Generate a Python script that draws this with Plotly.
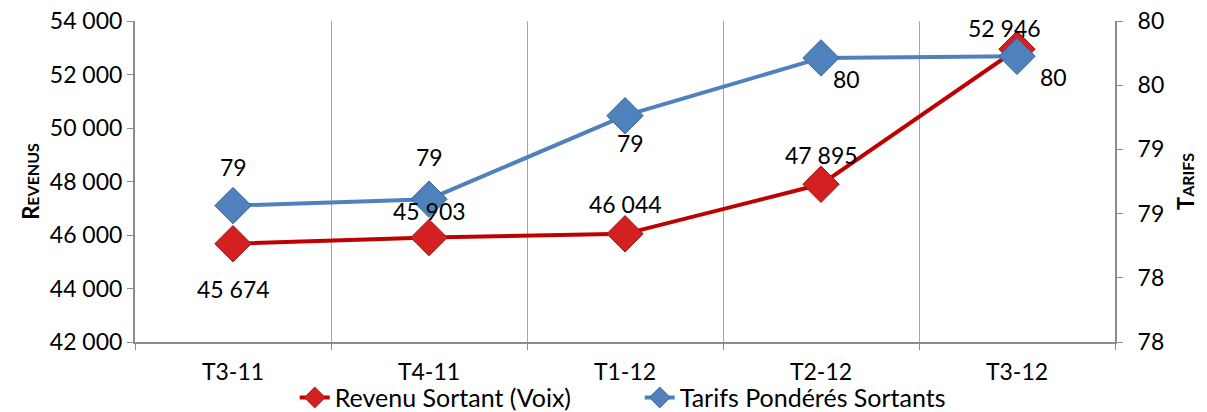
import plotly.graph_objects as go

# data
trimestres = ["T3-11", "T4-11", "T1-12", "T2-12", "T3-12"]
revenu_sortant = [45674, 45903, 46044, 47895, 52946]
tarifs_ponderes = [78.85, 78.89, 79.41, 79.77, 79.78]

FONT = "Lato, Open Sans, sans-serif"
ROUGE = "#C00000"
BLEU = "#4F81BD"
GRIS = "#8C8C8C"

fig = go.Figure()

fig.add_trace(go.Scatter(
    x=trimestres, y=revenu_sortant, name="Revenu Sortant (Voix)",
    mode="lines+markers",
    line=dict(color=ROUGE, width=4),
    marker=dict(symbol="diamond", size=28, color="#D42020", line=dict(color="#9A1A1A", width=1)),
))
fig.add_trace(go.Scatter(
    x=trimestres, y=tarifs_ponderes, name="Tarifs Pondérés Sortants",
    mode="lines+markers", yaxis="y2",
    line=dict(color=BLEU, width=4),
    marker=dict(symbol="diamond", size=28, color="#4F81BD", line=dict(color="#3A6596", width=1)),
))

# data labels (offsets follow Excel's placement in the original)
rev_shift = [(0, -45), (0, 27), (0, 30), (0, 29), (-13, 21)]
for i, (cat, v) in enumerate(zip(trimestres, revenu_sortant)):
    dx, dy = rev_shift[i]
    fig.add_annotation(x=cat, y=v, xshift=dx, yshift=dy, showarrow=False,
                       text=f"{v:,}".replace(",", " "),
                       font=dict(family=FONT, size=23, color="black"))

tar_shift = [(0, 39), (0, 42), (5, -27), (25, -21), (36, -21)]
for i, (cat, v) in enumerate(zip(trimestres, tarifs_ponderes)):
    dx, dy = tar_shift[i]
    fig.add_annotation(x=cat, y=v, xshift=dx, yshift=dy, showarrow=False,
                       text=f"{v:.0f}", font=dict(family=FONT, size=23, color="black"), yref="y2")

# the page body adds 8px around the figure, margins account for it
fig.update_layout(
    width=1207, height=412,
    margin=dict(l=127, r=100, t=13, b=78),
    paper_bgcolor="white", plot_bgcolor="white",
    font=dict(family=FONT, size=23, color="black"),
    separators=", ",
    showlegend=True,
    legend=dict(orientation="h", x=0.163, xanchor="left",
                yref="container", y=0.054, yanchor="middle",
                font=dict(family=FONT, size=25), tracegroupgap=0,
                entrywidth=300, entrywidthmode="pixels",
                bgcolor="rgba(0,0,0,0)"),
    xaxis=dict(
        type="category", range=[-0.5, 4.5], automargin=False,
        tickson="boundaries", ticks="outside", ticklen=6, tickcolor=GRIS,
        showgrid=True, gridcolor="#A6A6A6", gridwidth=1,
        showline=True, linecolor=GRIS, linewidth=2,
        ticklabelstandoff=8,
        tickfont=dict(family=FONT, size=23),
    ),
    yaxis=dict(
        range=[42000, 54000], dtick=2000, tickformat=",d", automargin=False,
        showgrid=False, zeroline=False, ticklabeloverflow="allow",
        showline=True, linecolor=GRIS, linewidth=2,
        ticks="outside", ticklen=6, tickcolor=GRIS,
        tickfont=dict(family=FONT, size=23),
        title=dict(text="<b>R<span style='font-size:16px'>EVENUS</span></b>",
                   font=dict(family=FONT, size=22), standoff=4),
    ),
    yaxis2=dict(
        range=[78, 80], dtick=0.4, tickformat=".0f", automargin=False,
        overlaying="y", side="right", ticklabeloverflow="allow",
        showgrid=False, zeroline=False, ticklabelstandoff=10,
        showline=True, linecolor=GRIS, linewidth=2,
        ticks="outside", ticklen=6, tickcolor=GRIS,
        tickfont=dict(family=FONT, size=23),
        title=dict(text="<b>T<span style='font-size:16px'>ARIFS</span></b>",
                   font=dict(family=FONT, size=22), standoff=15),
    ),
)

fig.write_html("out.html")
